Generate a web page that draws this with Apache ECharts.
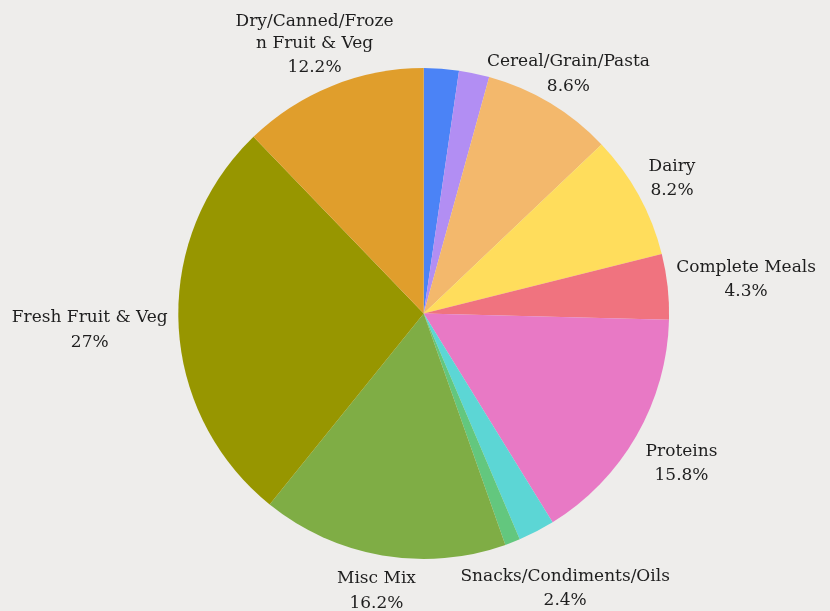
<!DOCTYPE html>
<html><head><meta charset="utf-8">
<script src="https://cdn.jsdelivr.net/npm/echarts@6/dist/echarts.min.js"></script>
<style>html,body{margin:0;padding:0;background:#eeedeb}#c{width:830px;height:611px}</style>
</head><body><div id="c"></div>
<script>
const categories = ["Beverages","Baby Needs","Cereal/Grain/Pasta","Dairy","Complete Meals","Proteins","Snacks/Condiments/Oils","Bakery","Misc Mix","Fresh Fruit & Veg","Dry/Canned/Frozen Fruit & Veg"];
const values = [2.3,2.0,8.6,8.2,4.3,15.8,2.4,1.0,16.2,27,12.2];
const colors = ["#4b83f6","#b28ef3","#f3b86c","#ffdd5c","#f0737f","#e879c5","#5cd6d5","#63c77e","#7fad45","#979600","#e09e2c"];
const hiddenLabels = ["Beverages","Baby Needs","Bakery"];

const CX = 423.7, CY = 313.5, R = 245.4, GAP = 10.5, Y_SHIFT = 3;
const FONT_SIZE = 17, NAME_LH = 22, VALUE_LH = 27, FONT = FONT_SIZE + 'px "DejaVu Serif"';
const CAP_TOP = -6.5, CAP_BOTTOM = 5.9;   // glyph cap box relative to line centre
const MAX_LABEL_W = 163;
const WRAP_NAMES = ["Dry/Canned/Frozen Fruit & Veg"];

const ctx = document.createElement('canvas').getContext('2d');
ctx.font = FONT;
const measure = s => ctx.measureText(s).width;

function wrap(text) {
  const lines = []; let cur = '';
  for (const ch of text) {
    if (cur && measure(cur + ch) > MAX_LABEL_W) { lines.push(cur); cur = ch; }
    else cur += ch;
  }
  if (cur) lines.push(cur);
  return lines;
}
const nameLines = categories.map(n => WRAP_NAMES.includes(n) ? wrap(n) : [n]);

const total = values.reduce((a, b) => a + b, 0);
const midAngles = [];
{ let acc = 0; values.forEach(v => { midAngles.push((acc + v / 2) / total * 2 * Math.PI); acc += v; }); }

function labelPos(i) {
  const a = midAngles[i], dx = Math.sin(a), dy = -Math.cos(a);
  const lines = nameLines[i].concat([values[i] + '%']);
  const heights = lines.map((_, k) => k < lines.length - 1 ? NAME_LH : VALUE_LH);
  const H = heights.reduce((s, h) => s + h, 0);
  const widths = lines.map(measure);
  for (let d = R * 0.8; d < R + 300; d += 0.5) {
    const x = CX + dx * d, y = CY + dy * d;
    let ok = true, top = y - H / 2;
    for (let k = 0; k < lines.length && ok; k++) {
      const lc = top + heights[k] / 2; top += heights[k];
      const x0 = x - widths[k] / 2, x1 = x + widths[k] / 2;
      const y0 = lc + CAP_TOP, y1 = lc + CAP_BOTTOM;
      const px = Math.min(Math.max(CX, x0), x1), py = Math.min(Math.max(CY, y0), y1);
      if (Math.hypot(px - CX, py - CY) < R + GAP) ok = false;
    }
    if (ok) return [x, y + Y_SHIFT];
  }
  return [CX, CY];
}

const chart = echarts.init(document.getElementById('c'));
chart.setOption({
  backgroundColor: '#eeedeb',
  series: [{
    type: 'pie',
    center: [CX, CY],
    radius: R,
    startAngle: 90,
    clockwise: true,
    animation: false,
    avoidLabelOverlap: false,
    label: {
      show: true,
      position: 'outside',
      formatter: p => nameLines[p.dataIndex].map(l => '{n|' + l + '}').join('\n') + '\n{v|' + p.value + '%}',
      fontFamily: 'DejaVu Serif',
      fontSize: FONT_SIZE,
      color: '#1e1e1e',
      overflow: 'none',
      width: 400,
      rich: {
        n: { fontFamily: 'DejaVu Serif', fontSize: FONT_SIZE, lineHeight: NAME_LH, color: '#1e1e1e' },
        v: { fontFamily: 'DejaVu Serif', fontSize: FONT_SIZE, lineHeight: VALUE_LH, color: '#1e1e1e' }
      }
    },
    labelLine: { show: false },
    labelLayout: p => {
      const [x, y] = labelPos(p.dataIndex);
      return { x: x, y: y, align: 'center', verticalAlign: 'middle' };
    },
    data: categories.map((n, i) => {
      const d = { name: n, value: values[i], itemStyle: { color: colors[i] } };
      if (hiddenLabels.includes(n)) d.label = { show: false };
      return d;
    })
  }]
});
</script></body></html>
